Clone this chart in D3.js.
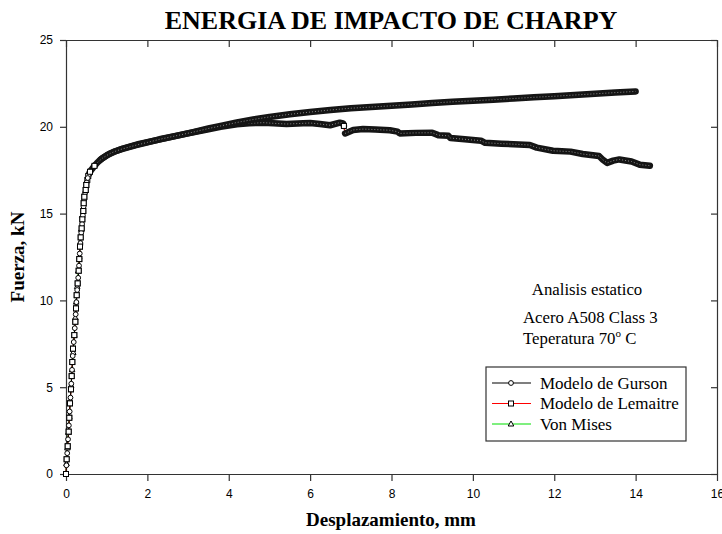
<!DOCTYPE html>
<html>
<head>
<meta charset="utf-8">
<script src="https://cdn.jsdelivr.net/npm/d3@7/dist/d3.min.js"></script>
<style>
  html, body { margin: 0; padding: 0; background: #fff; }
  svg { display: block; }
</style>
</head>
<body>
<svg id="chart" width="722" height="534"></svg>
<script>
// ---------------- DATA ----------------
const xTicks = [0, 2, 4, 6, 8, 10, 12, 14, 16];
const yTicks = [0, 5, 10, 15, 20, 25];

const gursonDisp = [0, 0.01, 0.03, 0.05, 0.07, 0.09, 0.11, 0.13, 0.148, 0.165, 0.19, 0.215, 0.238, 0.255, 0.275, 0.3, 0.32, 0.338, 0.355, 0.375, 0.395, 0.415, 0.432, 0.447, 0.47, 0.49, 0.51, 0.535, 0.56,
  0.6, 0.65, 0.7, 0.75, 0.8, 0.9, 1.0, 1.1, 1.2, 1.35, 1.5, 1.7, 2.0, 2.3, 2.7, 3.1, 3.5, 3.8, 4.2, 4.6, 5.0, 5.5, 6.0, 6.5, 7.0, 7.5, 8.0, 8.5, 9.0, 9.5, 10.0, 10.5, 11.0, 11.5, 12.0, 12.5, 13.0, 13.5, 14.0];
const gursonForce = [0, 0.5, 1.2, 2.0, 2.8, 3.6, 4.4, 5.2, 6.0, 6.8, 7.6, 8.4, 9.2, 9.9, 10.6, 11.3, 12.0, 12.7, 13.3, 13.9, 14.4, 14.9, 15.4, 15.8, 16.2, 16.5, 16.8, 17.05, 17.25,
  17.45, 17.6, 17.75, 17.88, 18.0, 18.2, 18.35, 18.48, 18.58, 18.7, 18.8, 18.93, 19.1, 19.28, 19.48, 19.68, 19.9, 20.05, 20.25, 20.42, 20.57, 20.72, 20.85, 20.97, 21.07, 21.14, 21.21, 21.29, 21.37, 21.44, 21.5, 21.56, 21.63, 21.7, 21.76, 21.83, 21.9, 21.97, 22.04];

const lemaitreDisp = [0, 0.016, 0.042, 0.066, 0.081, 0.098, 0.123, 0.14, 0.155, 0.172, 0.204, 0.229, 0.246, 0.263, 0.287, 0.312, 0.327, 0.344, 0.361, 0.385, 0.401, 0.425, 0.435, 0.45, 0.484, 0.499, 0.524, 0.548, 0.59,
  0.7, 0.85, 1.0, 1.2, 1.4, 1.8, 2.2, 2.6, 3.0, 3.5, 3.8, 4.2, 4.5, 4.85, 5.1, 5.42, 5.83, 6.0, 6.24, 6.49, 6.73, 6.81, 6.83, 6.86, 7.06, 7.3, 7.6, 7.96, 8.15, 8.2, 8.6, 9.0, 9.15, 9.4, 9.45, 9.8, 10.2, 10.3, 10.7, 11.0, 11.4, 11.57, 11.97, 12.4, 12.7, 13.1, 13.2, 13.3, 13.45, 13.6, 13.9, 14.1, 14.35];
const lemaitreForce = [0, 0.85, 1.6, 2.44, 3.24, 4.07, 4.88, 5.64, 6.45, 7.22, 8.0, 8.77, 9.54, 10.3, 10.98, 11.71, 12.38, 13.1, 13.63, 14.15, 14.67, 15.15, 15.6, 15.97, 16.36, 16.65, 16.94, 17.17, 17.41,
  17.75, 18.12, 18.35, 18.58, 18.75, 19.02, 19.22, 19.42, 19.62, 19.86, 20.0, 20.15, 20.2, 20.24, 20.2, 20.16, 20.2, 20.22, 20.16, 20.09, 20.24, 20.2, 20.05, 19.62, 19.82, 19.87, 19.84, 19.8, 19.72, 19.62, 19.65, 19.66, 19.52, 19.48, 19.35, 19.28, 19.2, 19.08, 19.03, 19.0, 18.95, 18.8, 18.62, 18.57, 18.43, 18.32, 18.09, 17.92, 18.05, 18.12, 18.0, 17.82, 17.76];

const vonMisesDisp = [0, 0.012, 0.035, 0.058, 0.08, 0.1, 0.125, 0.15, 0.178, 0.203, 0.228, 0.25, 0.275, 0.3, 0.325, 0.35, 0.375, 0.4];
const vonMisesForce = [0, 0.6, 1.5, 2.4, 3.3, 4.2, 5.1, 6.0, 7.0, 8.0, 9.0, 9.9, 10.8, 11.7, 12.5, 13.3, 14.1, 14.9];

const seriesNames = ["Modelo de Gurson", "Modelo de Lemaitre", "Von Mises"];
const seriesColors = ["#000000", "#ff0000", "#00e000"];
const seriesMarkers = ["circle", "square", "triangle"];

const titleText = "ENERGIA DE IMPACTO DE CHARPY";
const xLabel = "Desplazamiento, mm";
const yLabel = "Fuerza, kN";
const notes = ["Analisis estatico", "Acero A508 Class 3", "Teperatura 70", "o", " C"];

// ---------------- LAYOUT ----------------
const svg = d3.select("#chart");
const L = 66, R = 717, T = 40, B = 474;
const x = d3.scaleLinear().domain([0, 16]).range([L, R]);
const y = d3.scaleLinear().domain([0, 25]).range([B, T]);
const serif = "'Liberation Serif','Times New Roman',serif";
const sans = "'Liberation Sans',Arial,sans-serif";
const axisColor = "#333";
const bandStart = 0.55;

const toPts = (dx, dy) => dx.map((d, i) => ({ x: d, y: dy[i] }));
const series = [
  toPts(gursonDisp, gursonForce),
  toPts(lemaitreDisp, lemaitreForce),
  toPts(vonMisesDisp, vonMisesForce)
];

// Title
svg.append("text").attr("x", 391).attr("y", 29).attr("text-anchor", "middle")
  .style("font-family", serif).style("font-weight", "bold").style("font-size", "26px")
  .text(titleText);

// Axes
function styleAxis(g) {
  g.selectAll("path").attr("stroke", axisColor).attr("stroke-width", 1.2);
  g.selectAll("line").attr("stroke", axisColor).attr("stroke-width", 1.2);
  g.selectAll("text").style("font-family", sans).style("font-size", "12px").attr("fill", "#000");
}
svg.append("g").attr("transform", `translate(0,${B})`)
  .call(d3.axisBottom(x).tickValues(xTicks).tickSize(7).tickPadding(8).tickSizeOuter(0))
  .call(styleAxis);
svg.append("g").attr("transform", `translate(${L},0)`)
  .call(d3.axisLeft(y).tickValues(yTicks).tickSize(6).tickPadding(7).tickSizeOuter(0))
  .call(styleAxis);
svg.append("g").attr("transform", `translate(0,${T})`)
  .call(d3.axisTop(x).tickValues(xTicks).tickSize(-7).tickFormat("").tickSizeOuter(0))
  .call(styleAxis);
svg.append("g").attr("transform", `translate(${R},0)`)
  .call(d3.axisRight(y).tickValues(yTicks).tickSize(-6).tickFormat("").tickSizeOuter(0))
  .call(styleAxis);

// Axis labels
svg.append("text").attr("x", 391).attr("y", 526).attr("text-anchor", "middle")
  .style("font-family", serif).style("font-weight", "bold").style("font-size", "19px")
  .text(xLabel);
svg.append("text").attr("transform", `translate(24,${(T + B) / 2}) rotate(-90)`).attr("text-anchor", "middle")
  .style("font-family", serif).style("font-weight", "bold").style("font-size", "19px")
  .text(yLabel);

// Marker drawing
function drawMarker(g, type, cx, cy, fill, stroke) {
  if (type === "circle") {
    g.append("circle").attr("cx", cx).attr("cy", cy).attr("r", 2.4)
      .attr("fill", fill).attr("stroke", stroke).attr("stroke-width", 1);
  } else if (type === "square") {
    g.append("rect").attr("x", cx - 2.5).attr("y", cy - 2.5).attr("width", 5).attr("height", 5)
      .attr("fill", fill).attr("stroke", stroke).attr("stroke-width", 1);
  } else {
    g.append("path").attr("d", `M${cx},${cy - 3}L${cx + 2.8},${cy + 2}L${cx - 2.8},${cy + 2}Z`)
      .attr("fill", fill).attr("stroke", stroke).attr("stroke-width", 1);
  }
}

const line = d3.line().x(d => x(d.x)).y(d => y(d.y));
const plot = svg.append("g");

// Dense-marker bands (segments split at large jumps)
function bandSegments(pts) {
  const segs = [];
  let cur = [];
  pts.filter(p => p.x >= bandStart).forEach(p => {
    if (cur.length && Math.abs(y(p.y) - y(cur[cur.length - 1].y)) > 5) { segs.push(cur); cur = []; }
    cur.push(p);
  });
  if (cur.length) segs.push(cur);
  return segs;
}

// draw order: Von Mises, Lemaitre, Gurson lines and bands, then markers
[2, 1, 0].forEach(si => {
  plot.append("path").datum(series[si]).attr("d", line)
    .attr("fill", "none").attr("stroke", seriesColors[si]).attr("stroke-width", 1.1);
});
[1, 0].forEach(si => {
  bandSegments(series[si]).forEach(seg => {
    plot.append("path").datum(seg).attr("d", line)
      .attr("fill", "none").attr("stroke", "#151515").attr("stroke-width", 6.5)
      .attr("stroke-linejoin", "round").attr("stroke-linecap", "round");
    plot.append("path").datum(seg).attr("d", line)
      .attr("fill", "none").attr("stroke", "#8a8a8a").attr("stroke-width", 1)
      .attr("stroke-dasharray", "1 2");
  });
});
[2, 1, 0].forEach(si => {
  const mg = plot.append("g");
  series[si].forEach(p => {
    const inBand = si < 2 && p.x >= bandStart;
    if (inBand) return;
    drawMarker(mg, seriesMarkers[si], x(p.x), y(p.y), "#fff", "#000");
  });
});
// markers at the drop of the Lemaitre curve remain visible
series[1].forEach((p, i, arr) => {
  if (i > 0 && Math.abs(y(p.y) - y(arr[i - 1].y)) > 5) {
    drawMarker(plot, "square", x(arr[i - 1].x), y(arr[i - 1].y), "#fff", "#000");
  }
});

// Notes
svg.append("text").attr("x", 587).attr("y", 295).attr("text-anchor", "middle")
  .style("font-family", serif).style("font-size", "16.8px").text(notes[0]);
svg.append("text").attr("x", 523).attr("y", 323)
  .style("font-family", serif).style("font-size", "16.8px").text(notes[1]);
const t3 = svg.append("text").attr("x", 523).attr("y", 344)
  .style("font-family", serif).style("font-size", "16.8px");
t3.append("tspan").text(notes[2]);
t3.append("tspan").attr("dy", -7).style("font-size", "11px").text(notes[3]);
t3.append("tspan").attr("dy", 7).text(notes[4]);

// Legend
const lg = svg.append("g");
lg.append("rect").attr("x", 486).attr("y", 367).attr("width", 200).attr("height", 74)
  .attr("fill", "#fff").attr("stroke", "#333").attr("stroke-width", 1.2);
seriesNames.forEach((name, i) => {
  const ly = 383 + i * 20.5;
  lg.append("line").attr("x1", 492).attr("x2", 531).attr("y1", ly).attr("y2", ly)
    .attr("stroke", seriesColors[i]).attr("stroke-width", 1.1);
  drawMarker(lg, seriesMarkers[i], 511, ly, "#fff", "#000");
  lg.append("text").attr("x", 540).attr("y", ly + 5.5)
    .style("font-family", serif).style("font-size", "17px").text(name);
});
</script>
</body>
</html>
